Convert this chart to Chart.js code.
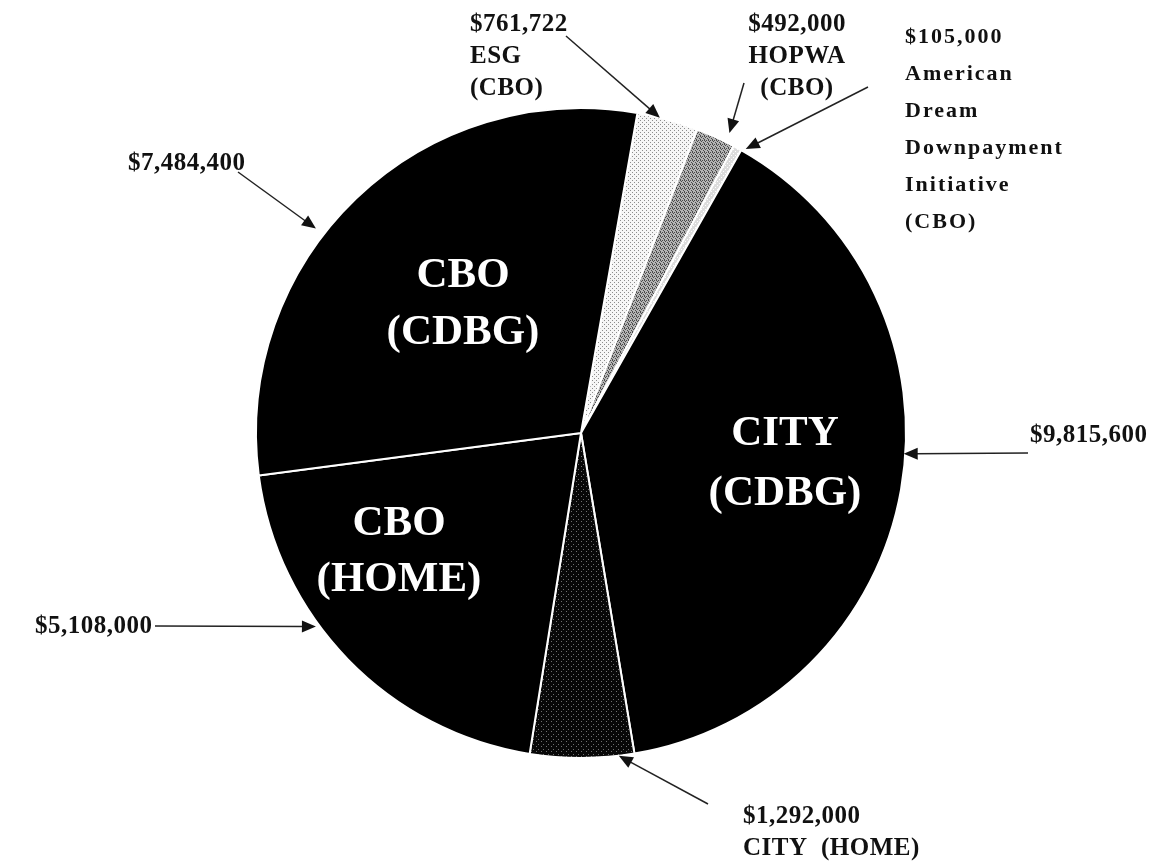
<!DOCTYPE html>
<html>
<head>
<meta charset="utf-8">
<title>Funding breakdown</title>
<script src="https://cdn.jsdelivr.net/npm/chart.js@4.4.1/dist/chart.umd.min.js"></script>
<style>
  html, body { margin: 0; padding: 0; background: #fff; }
  canvas { display: block; }
</style>
</head>
<body>
<canvas id="pieChart" width="1153" height="863"></canvas>
<script>
// slice order runs clockwise from just right of 12 o'clock
const sliceNames = [
  "ESG (CBO)",
  "HOPWA (CBO)",
  "American Dream Downpayment Initiative (CBO)",
  "CITY (CDBG)",
  "CITY (HOME)",
  "CBO (HOME)",
  "CBO (CDBG)"
];
const sliceAmounts = [761722, 492000, 105000, 9815600, 1292000, 5108000, 7484400];
const insideText = [[], [], [], ["CITY", "(CDBG)"], [], ["CBO", "(HOME)"], ["CBO", "(CDBG)"]];
const calloutText = [
  ["ESG", "(CBO)"],
  ["HOPWA", "(CBO)"],
  ["American", "Dream", "Downpayment", "Initiative", "(CBO)"],
  [],
  ["CITY  (HOME)"],
  [],
  []
];

// where the callouts sit (layout only)
const calloutLayout = [
  { x: 470, y: 31, align: "left", gap: 32, tail: [566, 36], at: 0.37, reach: 1.0 },
  { x: 797, y: 31, align: "center", gap: 32, tail: [744, 83], at: 0.76, reach: 1.03 },
  { x: 905, y: 43, align: "left", gap: 37, small: true, tail: [868, 87], at: 1.4, reach: 1.01 },
  { x: 1030, y: 442, align: "left", gap: 32, tail: [1028, 453], at: 0.455, reach: 0.995 },
  { x: 743, y: 823, align: "left", gap: 32, tail: [708, 804], at: 0.15, reach: 1.0 },
  { x: 35, y: 633, align: "left", gap: 32, tail: [155, 626], at: 0.61, reach: 1.01 },
  { x: 128, y: 170, align: "left", gap: 32, tail: [238, 172], at: 0.42, reach: 1.03 }
];
const insideLayout = [null, null, null,
  { x: 785, y: 445, gap: 60 },
  null,
  { x: 399, y: 535, gap: 56 },
  { x: 463, y: 287, gap: 57 }];

function makePattern(size, base, dot, cells) {
  const c = document.createElement("canvas");
  c.width = size; c.height = size;
  const g = c.getContext("2d");
  g.fillStyle = base;
  g.fillRect(0, 0, size, size);
  g.fillStyle = dot;
  cells.forEach(([x, y]) => g.fillRect(x, y, 1, 1));
  return g.createPattern(c, "repeat");
}

const sliceFills = [
  makePattern(4, "#f6f6f6", "#8c8c8c", [[0, 0], [2, 2]]),
  makePattern(4, "#b4b4b4", "#4a4a4a", [[0, 0], [2, 0], [1, 1], [3, 2], [0, 3]]),
  makePattern(4, "#dcdcdc", "#ffffff", [[1, 1], [3, 3]]),
  "#000000",
  makePattern(5, "#080808", "#707070", [[1, 1], [3, 4]]),
  "#000000",
  "#000000"
];

function money(v) {
  return "$" + v.toLocaleString("en-US");
}

function drawArrow(ctx, x1, y1, x2, y2) {
  const a = Math.atan2(y2 - y1, x2 - x1);
  const len = 14, half = 6;
  ctx.beginPath();
  ctx.moveTo(x1, y1);
  ctx.lineTo(x2 - Math.cos(a) * len * 0.8, y2 - Math.sin(a) * len * 0.8);
  ctx.stroke();
  ctx.beginPath();
  ctx.moveTo(x2, y2);
  ctx.lineTo(x2 - len * Math.cos(a) + half * Math.sin(a), y2 - len * Math.sin(a) - half * Math.cos(a));
  ctx.lineTo(x2 - len * Math.cos(a) - half * Math.sin(a), y2 - len * Math.sin(a) + half * Math.cos(a));
  ctx.closePath();
  ctx.fill();
}

const labelPlugin = {
  id: "pieLabels",
  afterDatasetsDraw(chart) {
    const ctx = chart.ctx;
    const arcs = chart.getDatasetMeta(0).data;
    ctx.save();

    // big white names inside the black slices
    ctx.fillStyle = "#ffffff";
    ctx.textAlign = "center";
    ctx.textBaseline = "alphabetic";
    ctx.font = "bold 43px 'Liberation Serif', 'Times New Roman', serif";
    insideText.forEach((lines, i) => {
      const pos = insideLayout[i];
      if (!pos) return;
      lines.forEach((t, k) => ctx.fillText(t, pos.x, pos.y + k * pos.gap));
    });

    // callouts with arrows
    ctx.fillStyle = "#111111";
    ctx.strokeStyle = "#222222";
    ctx.lineWidth = 1.5;
    calloutLayout.forEach((c, i) => {
      const arc = arcs[i];
      const p = arc.getProps(["x", "y", "startAngle", "endAngle", "outerRadius"], true);
      const ang = p.startAngle + c.at * (p.endAngle - p.startAngle);
      const tipX = p.x + Math.cos(ang) * p.outerRadius * c.reach;
      const tipY = p.y + Math.sin(ang) * p.outerRadius * c.reach;
      drawArrow(ctx, c.tail[0], c.tail[1], tipX, tipY);

      ctx.textAlign = c.align;
      if (c.small) {
        ctx.font = "bold 22px 'Liberation Serif', 'Times New Roman', serif";
        ctx.letterSpacing = "2px";
      } else {
        ctx.font = "bold 25px 'Liberation Serif', 'Times New Roman', serif";
        ctx.letterSpacing = "0.5px";
      }
      const lines = [money(sliceAmounts[i])].concat(calloutText[i]);
      lines.forEach((t, k) => ctx.fillText(t, c.x, c.y + k * c.gap));
    });
    ctx.restore();
  }
};

new Chart(document.getElementById("pieChart"), {
  type: "pie",
  data: {
    labels: sliceNames,
    datasets: [{
      data: sliceAmounts,
      backgroundColor: sliceFills,
      borderColor: "#ffffff",
      borderWidth: 2
    }]
  },
  options: {
    responsive: false,
    devicePixelRatio: 1,
    animation: false,
    rotation: 10,
    layout: { padding: { left: 200, right: 191, top: 107, bottom: 104 } },
    plugins: {
      legend: { display: false },
      tooltip: { enabled: false },
      title: { display: false }
    }
  },
  plugins: [labelPlugin]
});
</script>
</body>
</html>
